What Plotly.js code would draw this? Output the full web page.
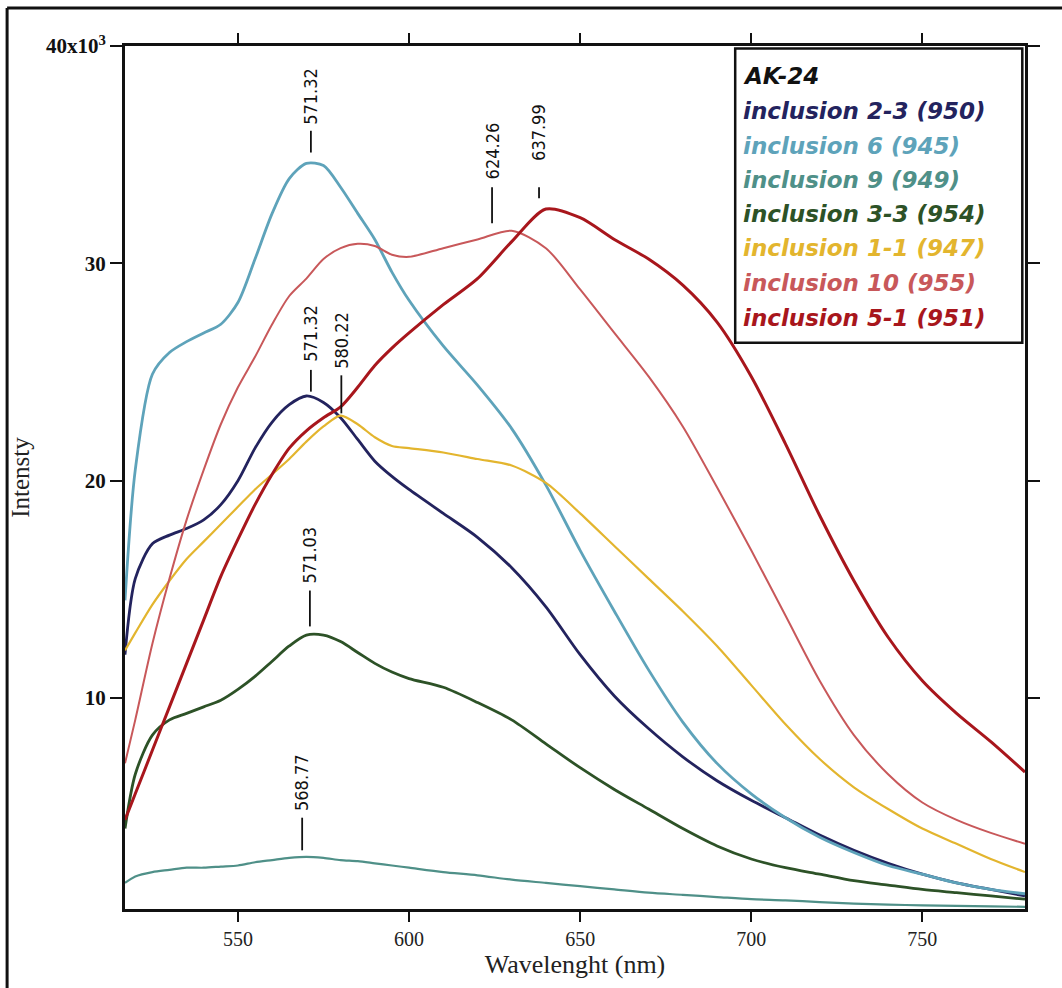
<!DOCTYPE html>
<html>
<head>
<meta charset="utf-8">
<script src="https://cdn.plot.ly/plotly-3.0.1.min.js"></script>
<style>
html,body{margin:0;padding:0;background:#fff;}
#chart{width:1062px;height:988px;}
</style>
</head>
<body>
<div id="chart"></div>
<script>
// Wavelength grid (nm)
const wavelength = [517,520,525,530,535,540,545,550,555,560,565,570,575,580,585,590,595,600,610,620,630,640,650,660,670,680,690,700,710,720,730,740,750,760,770,780];

// Intensity (x10^3)
const inc23_950 = [12.0,15.5,17.1,17.5,17.8,18.2,18.9,20.0,21.5,22.7,23.5,23.9,23.6,22.9,21.9,20.9,20.2,19.6,18.5,17.4,16.0,14.2,12.0,10.1,8.6,7.3,6.2,5.3,4.5,3.7,3.0,2.4,1.9,1.5,1.2,0.9];
const inc6_945  = [14.5,20.5,24.9,25.9,26.4,26.8,27.2,28.2,30.2,32.3,33.9,34.6,34.5,33.5,32.3,31.1,29.6,28.3,26.2,24.4,22.4,19.8,16.8,14.0,11.3,8.9,7.0,5.6,4.5,3.6,2.9,2.3,1.9,1.5,1.2,1.0];
const inc9_949  = [1.5,1.8,2.0,2.1,2.2,2.2,2.25,2.3,2.45,2.55,2.65,2.7,2.65,2.55,2.5,2.4,2.3,2.2,2.0,1.85,1.65,1.5,1.35,1.2,1.05,0.95,0.85,0.75,0.7,0.62,0.55,0.5,0.47,0.44,0.42,0.4];
const inc33_954 = [4.0,6.5,8.3,9.0,9.3,9.6,9.9,10.4,11.0,11.7,12.4,12.9,12.9,12.6,12.1,11.6,11.2,10.9,10.5,9.8,9.0,7.9,6.8,5.8,4.9,4.0,3.2,2.6,2.2,1.9,1.6,1.4,1.2,1.05,0.9,0.75];
const inc11_947 = [12.2,13.0,14.3,15.4,16.4,17.2,18.0,18.8,19.6,20.3,21.0,21.8,22.5,23.0,22.6,22.0,21.6,21.5,21.3,21.0,20.7,19.9,18.5,17.0,15.5,14.0,12.4,10.6,8.8,7.2,5.9,4.9,4.0,3.3,2.6,2.0];
const inc10_955 = [7.0,9.0,12.5,15.5,18.2,20.5,22.6,24.3,25.7,27.2,28.5,29.3,30.2,30.7,30.9,30.8,30.4,30.3,30.7,31.1,31.5,30.7,28.8,26.8,24.8,22.5,19.7,16.8,13.8,10.8,8.3,6.5,5.2,4.4,3.8,3.3];
const inc51_951 = [4.4,5.6,7.6,9.6,11.6,13.6,15.6,17.3,18.9,20.3,21.5,22.3,22.9,23.4,24.3,25.3,26.1,26.8,28.1,29.3,31.0,32.5,32.1,31.1,30.2,29.0,27.3,24.8,21.7,18.4,15.4,12.8,10.8,9.3,8.0,6.6];

const seriesNames = ["inclusion 2-3 (950)","inclusion 6 (945)","inclusion 9 (949)","inclusion 3-3 (954)","inclusion 1-1 (947)","inclusion 10 (955)","inclusion 5-1 (951)"];
const seriesColors = ["#23235e","#5ea3ba","#4f9088","#2d5227","#e3b52e","#c8585a","#a8161c"];
const seriesWidths = [2.8,2.8,2.2,2.8,2.2,2.0,3.0];
const seriesData = [inc23_950,inc6_945,inc9_949,inc33_954,inc11_947,inc10_955,inc51_951];
const legendTitle = "AK-24";

// Peak labels
const peakText = ["571.32","624.26","637.99","571.32","580.22","571.03","568.77"];
const peakX    = [571.32,624.26,637.99,571.32,580.22,571.03,568.77];
const peakLine0 = [35.1,31.85,33.0,24.1,23.1,13.3,3.0];
const peakLine1 = [36.1,33.5,33.5,25.1,24.85,14.95,4.5];
const peakTextY = [36.3,33.75,34.6,25.4,25.05,15.2,4.7];

const yTickVals = [10,20,30,40];
const yTickText = ["10","20","30","40x10<sup>3</sup>"];
const xTickVals = [550,600,650,700,750];

const traces = seriesData.map((d,i)=>({
  x: wavelength, y: d, type:'scatter', mode:'lines', name: seriesNames[i],
  line:{color:seriesColors[i], width:seriesWidths[i], shape:'spline', smoothing:0.8},
  showlegend:false, hoverinfo:'skip'
}));

const annFont = {family:"'Liberation Sans Narrow','DejaVu Sans Condensed','Liberation Sans',sans-serif", size:18, color:'#111'};
const annotations = [];
const shapes = [];
for (let i=0;i<peakText.length;i++){
  annotations.push({x:peakX[i], y:peakTextY[i], xref:'x', yref:'y', text:peakText[i], textangle:-90,
    showarrow:false, xanchor:'center', yanchor:'bottom', font:annFont});
  shapes.push({type:'line', xref:'x', yref:'y', x0:peakX[i], x1:peakX[i], y0:peakLine0[i], y1:peakLine1[i],
    line:{color:'#111', width:1.8}});
}

// Legend box (colored text)
shapes.push({type:'rect', xref:'paper', yref:'paper', x0:0.678, x1:0.997, y0:0.656, y1:0.997,
  line:{color:'#111', width:2.5}, fillcolor:'#fff', layer:'above'});
const legendFont = "'DejaVu Sans','Liberation Sans',sans-serif";
const legendYpx = [76,111,146,180,214,248,283,318];
const legendTexts = ["<b><i>"+legendTitle+"</i></b>"].concat(seriesNames.map(s=>"<b><i>"+s+"</i></b>"));
const legendColors = ["#111"].concat(seriesColors);
for (let i=0;i<legendTexts.length;i++){
  annotations.push({xref:'paper', yref:'paper', x:(741-125)/900, y:(909-legendYpx[i])/863,
    text:legendTexts[i], showarrow:false, xanchor:'left', yanchor:'middle',
    font:{family:legendFont, size:23, color:legendColors[i]}});
}

// Outer frame lines
shapes.push({type:'line', xref:'paper', yref:'paper', x0:-0.131, x1:-0.131, y0:-0.1, y1:1.044, line:{color:'#111', width:3}});
shapes.push({type:'line', xref:'paper', yref:'paper', x0:-0.131, x1:1.05, y0:1.044, y1:1.044, line:{color:'#111', width:3}});

const serif = "'Liberation Serif','Times New Roman',serif";
const layout = {
  width:1062, height:988,
  margin:{l:125, r:37, t:46, b:79},
  paper_bgcolor:'#fff', plot_bgcolor:'#fff',
  showlegend:false,
  xaxis:{range:[517,780], tickvals:xTickVals, ticks:'outside', ticklen:10, tickwidth:2, tickcolor:'#111',
    showline:true, linewidth:3, linecolor:'#111', mirror:'allticks', showgrid:false, zeroline:false,
    tickfont:{family:serif, size:20, color:'#222'},
    title:{text:'Wavelenght (nm)', font:{family:serif, size:26, color:'#222'}, standoff:4}},
  yaxis:{range:[0.3,40], tickvals:yTickVals, ticktext:yTickText, ticks:'outside', ticklen:12, tickwidth:2, tickcolor:'#111',
    showline:true, linewidth:3, linecolor:'#111', mirror:'allticks', showgrid:false, zeroline:false,
    tickfont:{family:serif, size:21, color:'#111', weight:'bold'},
    title:{text:'Intensty', font:{family:serif, size:25, color:'#222'}, standoff:10}},
  annotations: annotations,
  shapes: shapes
};
Plotly.newPlot('chart', traces, layout, {displayModeBar:false, staticPlot:true});
</script>
</body>
</html>
